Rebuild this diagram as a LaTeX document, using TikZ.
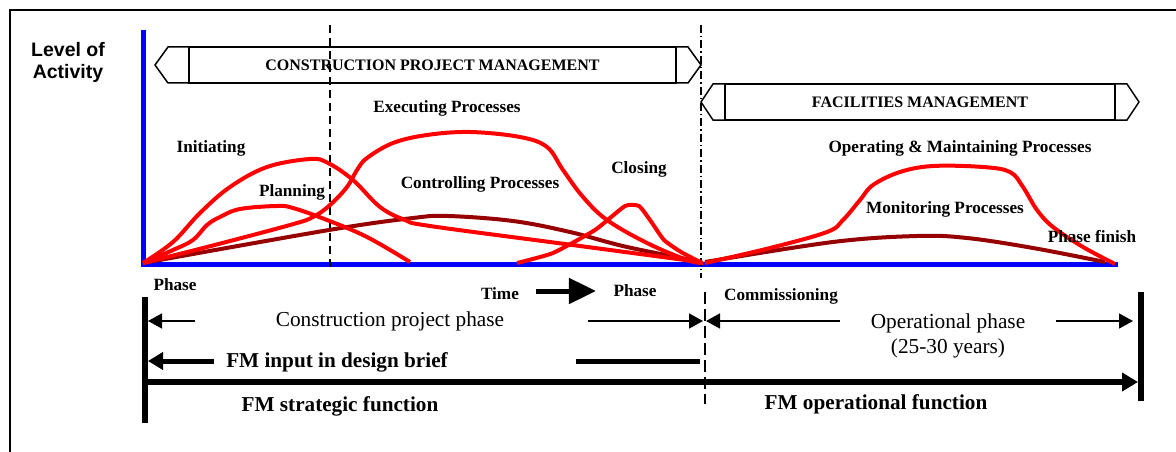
\documentclass[tikz,border=0pt]{standalone}
\usepackage{fontspec}
\setmainfont{Liberation Serif}
\newfontfamily\levelfont{Liberation Sans}
\usetikzlibrary{positioning,arrows.meta}
\definecolor{procred}{RGB}{255,0,0}
\definecolor{procbrown}{RGB}{150,0,0}
\definecolor{axisblue}{RGB}{0,0,255}

\begin{document}
\begin{tikzpicture}[x=1pt, y=-1pt,
  proc label/.style={anchor=base, font=\bfseries\fontsize{17.2}{20}\selectfont},
  fm label/.style={anchor=base, font=\bfseries\fontsize{21.2}{25}\selectfont},
  phase label/.style={anchor=base, font=\fontsize{21.3}{25}\selectfont},
  banner/.style={draw, line width=1.5pt, minimum height=36pt, inner sep=0pt, outer sep=0pt, font=\bfseries\fontsize{16}{18}\selectfont},
  banner end/.style={line width=1.5pt, line join=miter},
  red curve/.style={procred, line width=4pt, line join=round},
  brown curve/.style={procbrown, line width=4pt, line join=round},
  axis line/.style={axisblue, line width=5pt},
  span arrow/.style={-{Triangle[length=14pt,width=15pt]}, line width=1.6pt},
  bar/.style={line width=6pt}]

  \useasboundingbox (0,0) rectangle (1176,452);
  \draw[line width=1.5pt] (10,452) -- (10,10) -- (1176,10);

  % Axes and phase boundaries
  \coordinate (top) at (143,30);
  \coordinate (origin) at (143,264);
  \coordinate (end) at (1118,264);
  \draw[axis line] (top) -- (origin) -- (end);
  \draw[line width=1.5pt, dash pattern=on 8pt off 5pt] (330,25) -- (330,268);
  \draw[line width=1.5pt, dash pattern=on 8pt off 3pt on 1.5pt off 3pt] (701,25) -- (701,278);
  \draw[line width=1.5pt, dash pattern=on 12pt off 5pt] (705,292) -- (705,404);

  \node[align=center, font=\levelfont\bfseries\fontsize{19.5}{22}\selectfont] (level) at (68,62) {Level of\\Activity};

  % Banners
  \node[banner, minimum width=487pt] (cpm) at (432.5,65) {CONSTRUCTION PROJECT MANAGEMENT};
  \draw[banner end] (cpm.north west) -- (168,47) -- (155,65) -- (168,83) -- (cpm.south west);
  \draw[banner end] (cpm.north east) -- (688,47) -- (701,65) -- (688,83) -- (cpm.south east);
  \node[banner, minimum width=390pt] (fm) at (920,102) {FACILITIES MANAGEMENT};
  \draw[banner end] (fm.north west) -- (713,84) -- (701,102) -- (713,120) -- (fm.south west);
  \draw[banner end] (fm.north east) -- (1127,84) -- (1139,102) -- (1127,120) -- (fm.south east);

  % Process curves
  \draw[brown curve] plot[smooth, tension=.6] coordinates {(143,263) (329,230) (413,218) (448,216) (513,221) (570,232) (627,247) (702,262)};
  \draw[brown curve] plot[smooth, tension=.6] coordinates {(705,262) (833,242) (917,236) (967,238) (1033,248) (1105,262)};
  \draw[red curve] plot[smooth, tension=.6] coordinates {(143,263) (173,242) (200,213) (230,187) (267,167) (310,159) (328,163) (353,180) (380,207) (405,220) (430,226) (565,244) (700,262)};
  \draw[red curve] plot[smooth, tension=.6] coordinates {(143,263) (173,250) (193,240) (207,225) (220,217) (240,209) (277,206) (293,208) (327,220) (367,237) (410,262)};
  \draw[red curve] plot[smooth, tension=.6] coordinates {(143,263) (207,247) (290,225) (313,217) (330,205) (347,187) (357,170) (367,158) (393,143) (427,135) (470,132) (520,137) (547,147) (563,170) (583,197) (607,220) (647,243) (687,260) (703,263)};
  \draw[red curve] plot[smooth, tension=.3] coordinates {(517,263) (553,253) (595,230) (625,206) (639,206) (650,220) (664,240) (681,252) (702,263)};
  \draw[red curve] plot[smooth, tension=.6] coordinates {(705,263) (770,248) (827,232) (843,220) (860,200) (873,185) (900,172) (933,166) (983,167) (1010,172) (1023,187) (1037,210) (1053,227) (1083,247) (1115,264)};

  % Process labels
  \node[proc label] (init) at (211,152) {Initiating};
  \node[proc label] (plan) at (292,196) {Planning};
  \node[proc label] (exec) at (447,112) {Executing Processes};
  \node[proc label] (ctrl) at (480,188) {Controlling Processes};
  \node[proc label] (close) at (639,173) {Closing};
  \node[proc label] (operate) at (960,152) {Operating \& Maintaining Processes};
  \node[proc label] (monitor) at (945,213) {Monitoring Processes};
  \node[proc label] (finish) at (1092,242) {Phase finish};
  \node[proc label] (phasea) at (175,290) {Phase};
  \node[proc label] (time) at (500,299) {Time};
  \node[proc label] (phaseb) at (635,296) {Phase};
  \node[proc label] (comm) at (781,300) {Commissioning};
  \draw[-{Triangle[length=27pt,width=25pt]}, line width=5pt] ([xshift=14pt]time.east |- 0,291) -- ([xshift=-14pt]phaseb.west |- 0,291);

  % Phase spans
  \draw[bar] (145,297) -- (145,423);
  \draw[bar] (1141,292) -- (1141,401);
  \node[phase label] (cpp) at (390,326) {Construction project phase};
  \node[phase label] (oper) at (948,328) {Operational phase};
  \node[phase label] (years) at ([yshift=-25pt]oper.base) {(25-30 years)};
  \coordinate (cppL) at (195,321);
  \coordinate (cppR) at (588,321);
  \coordinate (cppTip) at (703,321);
  \coordinate (operL) at (840,321);
  \coordinate (operTip) at (706,321);
  \coordinate (operR) at (1056,321);
  \draw[span arrow] (cppL) -- (148,321);
  \draw[span arrow] (cppR) -- (cppTip);
  \draw[span arrow] (operL) -- (operTip);
  \draw[span arrow] (operR) -- (1133,321);

  % FM functions
  \node[fm label] (brief) at (337,367) {FM input in design brief};
  \node[fm label] (strat) at (340,411) {FM strategic function};
  \node[fm label] (opfn) at (876,409) {FM operational function};
  \draw[-{Triangle[length=15pt,width=17pt]}, line width=5pt] (214,361) -- (148,361);
  \draw[line width=5pt] (576,361) -- (700,361);
  \draw[-{Triangle[length=16pt,width=18pt]}, line width=6pt] (148,382) -- (1138,382);
\end{tikzpicture}
\end{document}
